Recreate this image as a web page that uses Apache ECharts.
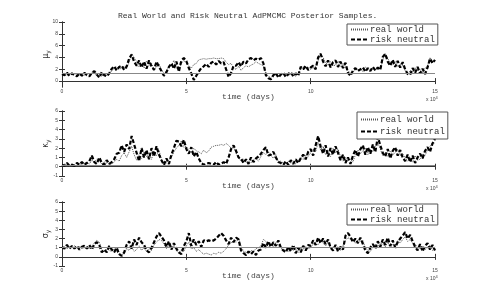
<!DOCTYPE html>
<html>
<head>
<meta charset="utf-8">
<script src="https://cdn.jsdelivr.net/npm/echarts@6/dist/echarts.min.js"></script>
<style>html,body{margin:0;padding:0;background:#fff;}#c{width:481px;height:300px;}</style>
</head>
<body>
<div id="c"></div>
<script>
// sampling grid: one stored sample every 1000 days, 0 .. 150000 days
const DAY_STEP = 1000;
const titleText = 'Real World and Risk Neutral AdPMCMC Posterior Samples.';
const legendNames = ['real world', 'risk neutral'];
const refLines = [1.25, 0.2, 1.0];

// panel 1: mu_y
const muRW = [1.1,1.3,1.0,1.2,1.1,1.3,1.0,1.1,1.2,1.0, 1.3,1.1,1.5,1.3,1.0,1.1,0.8,1.3,1.0,1.1,
  1.8,2.1,2.4,2.0,2.2,2.5,2.1,3.2,4.6,4.0, 3.3,2.4,2.9,2.2,3.4,2.6,3.0,1.8,2.5,2.9,
  1.9,1.3,1.7,2.5,2.6,3.5,2.2,2.0,3.0,3.5, 3.0,2.6,2.2,2.8,3.0,3.6,3.7,3.8,3.7,3.8,
  3.8,3.9,3.8,3.8,3.9,3.8,3.2,2.8,3.0,2.2, 2.0,2.5,1.8,2.3,2.6,2.4,2.7,2.9,3.3,3.0,
  2.8,2.6,1.3,0.8,0.6,1.1,1.0,0.9,1.2,1.1, 1.0,0.9,1.2,1.1,0.8,1.3,2.0,2.4,2.2,2.3,
  2.0,2.3,2.5,3.4,4.7,4.0,3.1,2.8,3.3,2.6, 2.7,3.4,2.5,3.0,2.2,1.8,1.3,1.4,2.2,1.9,
  2.1,1.6,2.4,2.0,1.8,2.3,1.9,2.2,2.0,3.6, 4.7,3.8,3.1,2.7,3.3,2.4,2.9,2.6,1.8,1.1,
  1.8,1.4,2.3,1.7,2.0,1.3,2.2,2.6,4.0,3.3,3.4];
const muRN = [1.2,1.0,1.4,0.9,1.3,1.0,0.8,1.3,0.9,1.4, 1.0,0.8,1.4,1.7,1.1,0.6,1.5,1.0,0.8,1.3,
  2.1,2.5,1.8,2.4,2.6,1.9,2.5,3.8,4.5,3.3, 2.6,3.5,2.3,3.3,2.1,3.5,2.5,1.9,3.3,2.4,
  1.7,0.9,1.5,2.4,3.0,2.1,3.3,1.6,3.5,3.9, 3.4,2.2,1.3,0.2,0.9,1.6,2.2,2.5,2.9,2.4,
  3.1,3.3,2.8,3.4,3.0,3.2,2.0,0.7,1.4,2.6, 2.6,3.2,2.5,3.3,3.0,3.7,3.9,3.5,3.8,3.6,
  3.9,3.0,1.0,0.5,0.3,1.0,1.4,0.6,1.1,1.4, 0.7,1.2,1.5,0.8,1.3,0.9,2.4,2.0,2.6,1.9,
  2.3,2.6,2.0,4.0,4.6,3.3,2.5,3.5,2.3,3.2, 3.5,2.4,3.3,2.2,3.1,1.4,0.9,1.8,2.2,1.7,
  2.0,2.3,1.6,2.2,1.7,2.4,1.8,2.3,1.9,4.1, 4.6,3.3,2.6,3.6,2.4,3.4,2.3,3.2,2.0,1.2,
  1.1,2.2,1.4,2.4,1.3,2.1,1.2,2.3,3.8,3.0,3.6];

// panel 2: kappa_y
const kapRW = [0.1,0.3,0.2,0.1,0.3,0.2,0.1,0.3,0.2,0.4, 0.4,0.3,0.7,0.5,0.8,0.6,0.3,0.5,0.4,0.3,
  0.3,0.5,0.8,0.6,1.2,1.5,1.0,1.6,2.2,1.3, 0.7,1.3,0.9,1.6,1.1,1.4,0.8,1.7,1.2,1.8,
  0.8,0.5,0.4,0.7,1.0,1.6,2.0,2.3,2.8,2.1, 2.2,1.8,1.5,2.0,1.7,1.6,1.4,1.8,1.5,1.7,
  2.1,2.2,2.3,2.3,2.4,2.3,2.5,2.3,2.0,2.1, 1.5,0.9,0.6,0.8,0.5,0.6,0.4,0.7,0.9,0.6,
  1.1,1.5,1.3,1.6,1.2,0.9,1.3,0.5,0.6,0.4, 0.3,0.6,0.4,0.5,0.3,0.6,1.0,0.8,1.3,1.1,
  1.5,1.9,1.6,2.6,1.8,2.2,1.3,1.7,1.1,2.0, 1.5,1.9,1.1,0.6,1.0,0.7,0.8,0.5,1.3,1.8,
  1.4,1.7,2.0,1.3,1.9,1.6,2.2,2.6,1.9,1.2, 1.5,1.1,1.7,1.3,1.5,1.9,1.2,1.4,1.0,0.6,
  0.9,0.5,1.2,0.7,0.8,1.4,1.2,1.8,2.2,2.6,2.5];
const kapRN = [0.2,0.1,0.4,0.1,0.2,0.1,0.4,0.2,0.5,0.2, 0.4,0.6,1.2,0.5,0.3,1.0,0.4,0.2,0.7,0.3,
  0.5,0.8,1.4,1.5,2.3,1.6,2.4,1.9,3.3,2.4, 1.5,0.6,2.0,1.0,1.8,0.8,2.0,1.1,2.2,1.3,
  0.7,0.2,0.9,0.3,1.3,2.0,2.8,2.7,2.2,2.9, 1.9,1.4,2.1,1.1,1.6,0.9,0.4,0.2,0.3,0.4,
  0.3,0.2,0.5,0.2,0.3,0.5,0.3,1.0,1.9,2.3, 1.7,1.0,0.9,0.4,0.8,0.3,1.0,0.5,0.9,1.1,
  1.4,1.8,2.1,1.2,1.3,1.6,1.0,0.5,0.4,0.2, 0.6,0.2,0.7,0.3,0.8,0.4,0.9,1.3,0.8,1.6,
  1.9,1.2,2.3,3.3,2.2,1.4,2.3,1.1,2.0,1.3, 2.2,1.5,0.7,1.3,0.4,1.0,0.3,1.2,1.8,1.1,
  1.9,2.3,1.3,2.1,1.4,2.4,1.6,3.2,2.3,1.5, 1.1,1.9,0.9,1.7,2.1,1.2,1.8,1.0,0.6,1.3,
  0.5,1.2,0.4,1.0,1.4,0.9,1.7,2.1,1.6,2.5,3.0];

// panel 3: sigma_y
const sigRW = [1.0,1.1,0.9,1.1,1.0,1.2,1.0,1.1,0.9,1.0, 1.1,0.9,1.2,1.5,1.8,1.6,0.8,0.5,0.9,0.7,
  0.6,0.9,0.5,0.4,0.2,0.3,0.9,0.7,1.1,0.6, 0.8,1.2,0.7,1.0,0.6,0.9,0.7,1.3,1.6,1.9,
  1.8,1.4,0.9,1.3,1.0,1.2,0.7,0.4,0.8,0.6, 1.2,1.6,0.9,1.0,0.6,0.8,0.5,0.3,0.4,0.3,
  0.2,0.4,0.3,0.5,0.4,0.6,0.9,1.3,1.5,1.8, 1.6,2.0,1.2,0.6,0.5,0.4,0.7,0.6,0.9,1.0,
  1.2,1.9,1.7,1.0,1.4,1.1,1.6,1.2,1.0,0.7, 0.8,0.6,1.0,0.7,0.9,0.5,1.0,0.8,1.1,0.9,
  1.0,1.4,1.6,1.3,1.8,1.5,1.2,1.6,0.9,1.1, 0.9,1.1,0.7,1.2,1.8,2.1,1.9,2.0,1.5,1.8,
  1.7,1.8,1.0,0.7,0.6,1.0,1.3,1.1,1.5,1.4, 1.1,1.6,1.0,1.4,1.3,1.8,1.5,1.9,2.2,1.7,
  1.9,1.5,1.4,1.0,0.9,1.2,0.8,1.0,1.3,0.7,1.1];
const sigRN = [1.1,0.9,1.3,0.9,1.2,0.9,1.2,0.8,1.1,1.2, 0.9,1.3,0.8,1.4,1.6,1.3,0.5,0.8,0.5,1.2,
  0.8,0.5,1.0,0.3,0.1,0.5,1.3,1.7,0.9,1.9, 1.3,2.1,1.6,1.3,0.7,0.5,1.0,1.6,2.2,2.6,
  2.2,1.8,1.1,1.7,0.8,1.5,0.9,0.5,0.3,1.2, 1.7,2.6,1.2,1.9,1.3,1.7,1.1,1.8,1.7,1.8,
  1.7,1.8,2.0,2.3,2.6,2.3,1.8,1.4,2.1,1.6, 2.1,1.9,0.7,0.4,0.2,0.6,0.3,0.6,0.2,0.7,
  0.8,1.5,1.0,1.7,1.1,1.6,1.2,1.8,1.0,0.7, 0.5,1.1,0.6,1.3,0.4,1.0,0.5,1.2,0.7,1.3,
  1.2,1.8,1.3,2.1,1.5,2.0,1.4,1.9,1.0,0.7, 1.3,0.6,1.1,0.8,2.3,2.6,2.2,1.6,2.0,1.5,
  2.1,1.4,0.7,0.4,1.0,1.4,0.9,1.7,1.1,1.9, 1.3,2.1,1.2,1.8,1.0,1.6,2.0,2.3,2.7,2.0,
  2.4,1.7,1.1,0.7,1.4,0.6,1.2,1.5,0.8,1.3,0.7];

const panels = [
  {rw: muRW, rn: muRN, ref: refLines[0], name: '{m|μ}{s|y}', min: -1, max: 10, ticks: [0,2,4,6,8,10],
   grid: {left: 62, top: 22, width: 373, height: 65}, legend: {left: 347, top: 24, gap: 1, pad: [1,3]}},
  {rw: kapRW, rn: kapRN, ref: refLines[1], name: '{m|κ}{s|y}', min: -1, max: 6, ticks: [-1,0,1,2,3,4,5,6],
   grid: {left: 62, top: 111, width: 373, height: 65}, legend: {left: 357, top: 112, gap: 3, pad: [3,3]}},
  {rw: sigRW, rn: sigRN, ref: refLines[2], name: '{m|σ}{s|y}', min: -1, max: 6, ticks: [-1,0,1,2,3,4,5,6],
   grid: {left: 62, top: 202, width: 373, height: 64}, legend: {left: 347, top: 204, gap: 1, pad: [1,3]}}
];

const toXY = arr => arr.map((v, i) => [i * DAY_STEP, v]);
const axisCol = '#333';
const grids = [], xAxes = [], yAxes = [], series = [], legends = [], graphics = [];

panels.forEach((p, k) => {
  grids.push(Object.assign({containLabel: false}, p.grid));
  const xBase = {
    gridIndex: k, type: 'value', min: 0, max: 150000, interval: 50000,
    axisLine: {show: true, lineStyle: {color: axisCol, width: 1}},
    axisTick: {show: true, inside: true, length: 3, lineStyle: {color: axisCol}},
    splitLine: {show: false}
  };
  xAxes.push(Object.assign({}, xBase, {
    position: 'bottom',
    name: 'time (days)', nameLocation: 'middle', nameGap: 6, nameMoveOverlap: false,
    nameTextStyle: {fontFamily: 'Liberation Mono', fontSize: 8, color: '#444', verticalAlign: 'top'},
    axisLabel: {show: true, fontSize: 5, color: '#444', margin: 2, fontFamily: 'Liberation Sans',
      formatter: v => String(v / 10000)}
  }));
  xAxes.push(Object.assign({}, xBase, {position: 'top', axisLabel: {show: false}}));
  const yBase = {
    gridIndex: k, type: 'value', min: p.min, max: p.max,
    axisLine: {show: true, lineStyle: {color: axisCol, width: 1}},
    axisTick: {show: true, inside: true, length: 3, lineStyle: {color: axisCol}, customValues: p.ticks},
    splitLine: {show: false}
  };
  yAxes.push(Object.assign({}, yBase, {
    position: 'left',
    name: p.name, nameLocation: 'middle', nameGap: 11, nameRotate: 90, nameMoveOverlap: false,
    nameTextStyle: {color: '#333', rich: {m: {fontSize: 8, fontFamily: 'DejaVu Sans', color: '#333'},
      s: {fontSize: 6, fontFamily: 'DejaVu Sans', color: '#333', padding: [4, 0, 0, 0]}}},
    axisLabel: {show: true, fontSize: 5, color: '#444', margin: 4, fontFamily: 'Liberation Sans', customValues: p.ticks}
  }));
  yAxes.push(Object.assign({}, yBase, {position: 'right', axisLabel: {show: false}}));

  series.push({
    name: legendNames[0], type: 'line', xAxisIndex: 2 * k, yAxisIndex: 2 * k,
    data: toXY(p.rw), symbol: 'none', animation: false,
    lineStyle: {color: '#555', width: 1, type: [1, 1]}, itemStyle: {color: '#555'}
  });
  series.push({
    name: legendNames[1], type: 'line', xAxisIndex: 2 * k, yAxisIndex: 2 * k,
    data: toXY(p.rn), symbol: 'none', animation: false,
    lineStyle: {color: '#000', width: 2.2, type: [4, 2]}, itemStyle: {color: '#000'},
    markLine: {silent: true, symbol: 'none', animation: false, label: {show: false},
      lineStyle: {color: '#888', width: 1, type: 'solid'}, data: [{yAxis: p.ref}]}
  });

  legends.push({
    data: legendNames, orient: 'vertical', left: p.legend.left, top: p.legend.top,
    itemGap: p.legend.gap, itemWidth: 18, itemHeight: 8, padding: p.legend.pad,
    borderColor: '#555', borderWidth: 1, backgroundColor: '#fff', selectedMode: false,
    itemStyle: {opacity: 0},
    textStyle: {fontFamily: 'Liberation Mono', fontSize: 9, color: '#333', padding: [0, 0, 0, -4]}
  });

  graphics.push({
    type: 'text', left: 426, top: p.grid.top + p.grid.height + 9,
    style: {text: '{a|x 10}{b|4}', rich: {a: {fontSize: 5, fontFamily: 'Liberation Sans', fill: '#444'},
      b: {fontSize: 4, fontFamily: 'Liberation Sans', fill: '#444', padding: [0, 0, 3, 0]}}}
  });
});

const chart = echarts.init(document.getElementById('c'), null, {renderer: 'canvas'});
chart.setOption({
  animation: false,
  backgroundColor: '#fff',
  title: {text: titleText, left: 118, top: 12, padding: 0,
    textStyle: {fontFamily: 'Liberation Mono', fontSize: 8, fontWeight: 'normal', color: '#333'}},
  grid: grids, xAxis: xAxes, yAxis: yAxes, legend: legends, series: series, graphic: graphics
});
</script>
</body>
</html>
